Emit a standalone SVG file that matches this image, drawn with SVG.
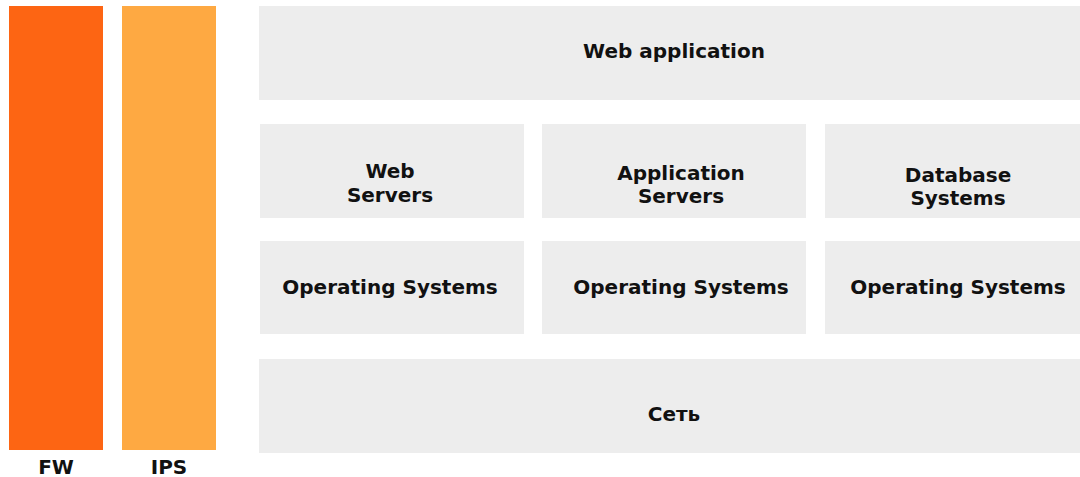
<svg xmlns="http://www.w3.org/2000/svg" width="1080" height="477" viewBox="0 0 1080 477">
  <style>
    .box { fill: #EDEDED; }
    .lbl { font-family: "DejaVu Sans", "Liberation Sans", sans-serif; font-weight: 700; font-size: 20px; fill: #111111; text-anchor: middle; }
  </style>
  <rect width="1080" height="477" fill="#FFFFFF"/>

  <!-- security bars -->
  <g id="fw">
    <rect x="9" y="6" width="94" height="444" fill="#FD6513"/>
    <text class="lbl" x="56" y="474">FW</text>
  </g>
  <g id="ips">
    <rect x="122" y="6" width="94" height="444" fill="#FEA942"/>
    <text class="lbl" x="169" y="474">IPS</text>
  </g>

  <!-- application layer -->
  <g id="web-application">
    <rect class="box" x="259" y="6" width="821" height="94"/>
    <text class="lbl" x="674" y="58">Web application</text>
  </g>

  <!-- server layer -->
  <g id="web-servers">
    <rect class="box" x="260" y="124" width="264" height="94"/>
    <text class="lbl" x="390" y="178">Web</text>
    <text class="lbl" x="390" y="202">Servers</text>
  </g>
  <g id="application-servers">
    <rect class="box" x="542" y="124" width="264" height="94"/>
    <text class="lbl" x="681" y="180">Application</text>
    <text class="lbl" x="681" y="203">Servers</text>
  </g>
  <g id="database-systems">
    <rect class="box" x="825" y="124" width="255" height="94"/>
    <text class="lbl" x="958" y="182">Database</text>
    <text class="lbl" x="958" y="205">Systems</text>
  </g>

  <!-- operating systems layer -->
  <g id="os-1">
    <rect class="box" x="260" y="241" width="264" height="93"/>
    <text class="lbl" x="390" y="294">Operating Systems</text>
  </g>
  <g id="os-2">
    <rect class="box" x="542" y="241" width="264" height="93"/>
    <text class="lbl" x="681" y="294">Operating Systems</text>
  </g>
  <g id="os-3">
    <rect class="box" x="825" y="241" width="255" height="93"/>
    <text class="lbl" x="958" y="294">Operating Systems</text>
  </g>

  <!-- network layer -->
  <g id="network">
    <rect class="box" x="259" y="359" width="821" height="94"/>
    <text class="lbl" x="674" y="421">Сеть</text>
  </g>

  <g id="connectors"/>
</svg>
